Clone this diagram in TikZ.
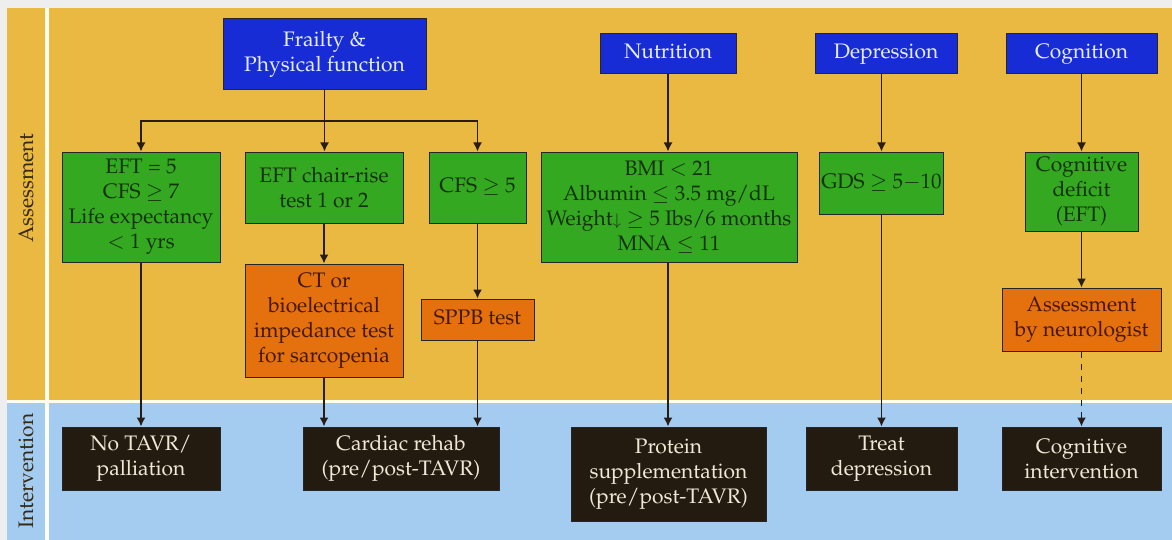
\documentclass[tikz,border=0pt]{standalone}
\usepackage[T1]{fontenc}
\usepackage{mathpazo}
\usetikzlibrary{arrows.meta}
\definecolor{bgorange}{RGB}{233,185,66}
\definecolor{bgblue}{RGB}{163,204,240}
\definecolor{margin}{RGB}{238,238,238}
\definecolor{sep}{RGB}{255,253,240}
\definecolor{boxblue}{RGB}{24,44,214}
\definecolor{txtblue}{RGB}{228,236,255}
\definecolor{boxgreen}{RGB}{52,168,32}
\definecolor{txtgreen}{RGB}{22,50,12}
\definecolor{boxorange}{RGB}{228,112,14}
\definecolor{txtorange}{RGB}{70,24,6}
\definecolor{boxblack}{RGB}{36,27,16}
\definecolor{txtblack}{RGB}{240,232,214}
\definecolor{linecol}{RGB}{40,28,22}
\definecolor{lblcol}{RGB}{55,42,20}
\begin{document}
\begin{tikzpicture}[x=0.5pt,y=-0.5pt,
  bw/.style={minimum width=#1*0.5pt},
  bh/.style={minimum height=#1*0.5pt},
  box/.style={draw=black!85,line width=0.5pt,inner sep=1pt,align=center,
    font=\fontsize{10.5}{12.5}\selectfont},
  bluebox/.style={box,fill=boxblue,text=txtblue},
  greenbox/.style={box,fill=boxgreen,text=txtgreen},
  orangebox/.style={box,fill=boxorange,text=txtorange},
  blackbox/.style={box,fill=boxblack,text=txtblack},
  arr/.style={draw=linecol,line width=0.75pt,-{Latex[length=4.5pt,width=4.5pt]}},
  conn/.style={draw=linecol,line width=0.75pt},
  lbl/.style={rotate=90,text=lblcol,font=\fontsize{10.5}{12.5}\selectfont}]
\useasboundingbox (0,0) rectangle (1172,540);
% backgrounds
\fill[margin] (0,0) rectangle (1172,540);
\fill[bgorange] (7,8) rectangle (1172,400);
\fill[bgblue] (7,403) rectangle (1172,540);
\fill[sep] (7,400) rectangle (1172,403);
\fill[sep] (45,8) rectangle (49,540);
% row labels
\node[lbl] (assess) at (26,188) {Assessment};
\node[lbl] (interv) at (26,471) {Intervention};
% top boxes
\node[bluebox,bw=203,bh=71] (frailty) at (324.5,54.5) {Frailty \&\\Physical function};
\node[bluebox,bw=136,bh=40] (nutr) at (668,54) {\strut Nutrition};
\node[bluebox,bw=142,bh=40] (depr) at (886,54) {\strut Depression};
\node[bluebox,bw=151,bh=40] (cogn) at (1081.5,54) {\strut Cognition};
% assessment boxes
\node[greenbox,bw=158,bh=110] (eft) at (141,207) {EFT = 5\\CFS $\geq$ 7\\Life expectancy\\$<$ 1 yrs};
\node[greenbox,bw=158,bh=71] (chair) at (324,187.5) {EFT chair-rise\\test 1 or 2};
\node[greenbox,bw=97,bh=71] (cfs) at (477.5,187.5) {\strut CFS $\geq$ 5};
\node[greenbox,bw=256,bh=110] (bmi) at (669,207) {BMI $<$ 21\\Albumin $\leq$ 3.5 mg/dL\\Weight{\footnotesize$\downarrow$} $\geq$ 5 Ibs/6 months\\MNA $\leq$ 11};
\node[greenbox,bw=121,bh=62] (gds) at (881.5,183) {\strut GDS $\geq$ 5$-$10};
\node[greenbox,bw=113,bh=79] (cogdef) at (1081.5,191.5) {Cognitive\\deficit\\(EFT)};
\node[orangebox,bw=158,bh=113] (ct) at (324,320.5) {CT or\\bioelectrical\\impedance test\\for sarcopenia};
\node[orangebox,bw=113,bh=41] (sppb) at (477.5,319.5) {\strut SPPB test};
\node[orangebox,bw=159,bh=63] (neuro) at (1081.5,319.5) {Assessment\\by neurologist};
% intervention boxes
\node[blackbox,bw=158,bh=63] (notavr) at (141,458.5) {No TAVR/\\palliation};
\node[blackbox,bw=196,bh=63] (rehab) at (401,458.5) {Cardiac rehab\\(pre/post-TAVR)};
\node[blackbox,bw=195,bh=94] (prot) at (668.5,474) {Protein\\supplementation\\(pre/post-TAVR)};
\node[blackbox,bw=151,bh=63] (treat) at (881.5,458.5) {Treat\\depression};
\node[blackbox,bw=159,bh=63] (cogint) at (1081.5,458.5) {Cognitive\\intervention};
% connectors
\coordinate (bus) at (324.5,121);
\draw[conn] (frailty.south) -- (bus);
\draw[arr] (bus) -| (eft.north);
\draw[arr] (bus) -| (cfs.north);
\draw[arr] (bus) -- (bus |- chair.north);
\draw[arr] (eft.south) -- (notavr.north);
\draw[arr] (chair.south) -- (ct.north);
\draw[arr] (ct.south) -- (ct.south |- rehab.north);
\draw[arr] (cfs.south) -- (sppb.north);
\draw[arr] (sppb.south) -- (sppb.south |- rehab.north);
\draw[arr] (nutr.south) -- (nutr.south |- bmi.north);
\draw[arr] (bmi.south -| nutr.south) -- (nutr.south |- prot.north);
\draw[arr] (depr.south -| gds.north) -- (gds.north);
\draw[arr] (gds.south) -- (treat.north);
\draw[arr] (cogn.south) -- (cogdef.north);
\draw[arr] (cogdef.south) -- (neuro.north);
\draw[arr,dashed] (neuro.south) -- (cogint.north);
\end{tikzpicture}
\end{document}
